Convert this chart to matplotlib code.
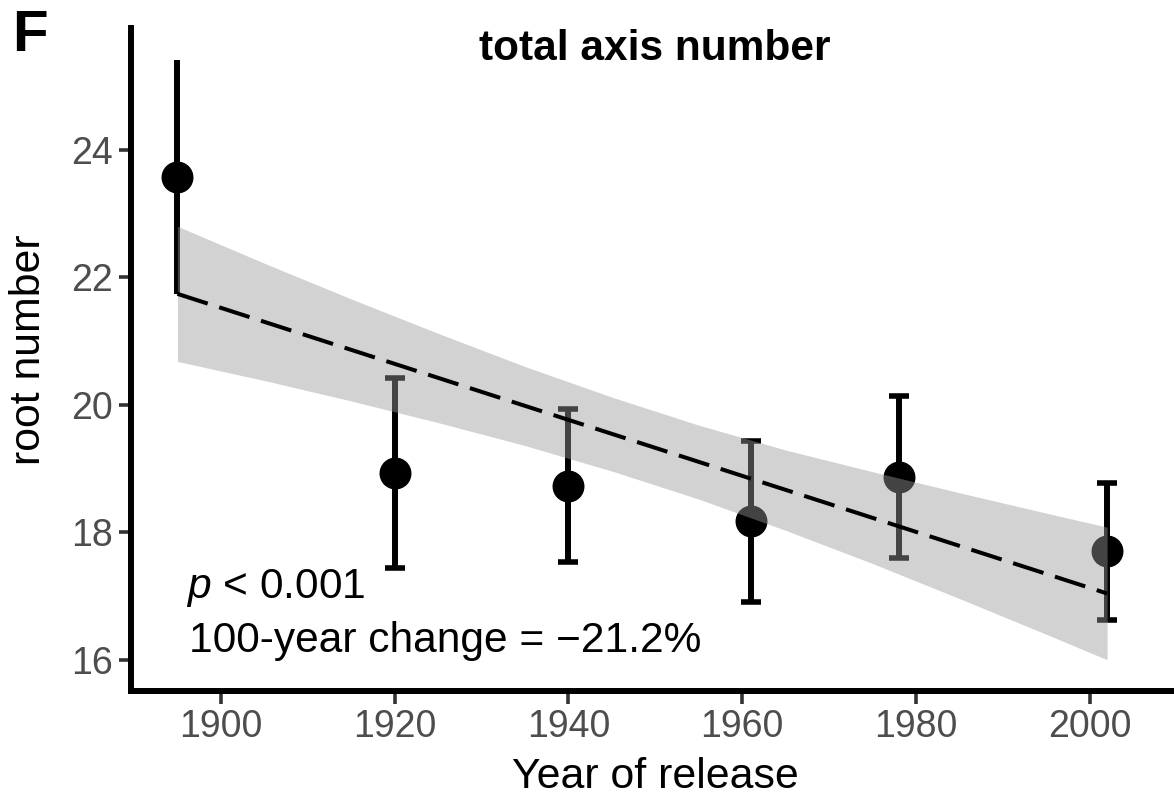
import matplotlib.pyplot as plt

plt.rcParams['font.family'] = ['Liberation Sans', 'DejaVu Sans']
plt.rcParams['mathtext.fontset'] = 'custom'
plt.rcParams['mathtext.it'] = 'Liberation Sans:italic'
plt.rcParams['mathtext.rm'] = 'Liberation Sans'

# group means and error bars
years = [1895, 1920, 1940, 1961, 1978, 2002]
means = [23.57, 18.93, 18.73, 18.17, 18.87, 17.70]
errs = [1.84, 1.49, 1.20, 1.26, 1.27, 1.08]

# regression line and its confidence band
fit_years = [1895, 1905, 1915, 1925, 1935, 1945, 1955, 1965, 1975, 1985, 1995, 2002]
fit_mid = [21.74, 21.30, 20.86, 20.42, 19.98, 19.54, 19.10, 18.66, 18.23, 17.79, 17.35, 17.04]
fit_hi = [22.80, 22.22, 21.66, 21.12, 20.60, 20.12, 19.68, 19.29, 18.95, 18.62, 18.30, 18.08]
fit_lo = [20.68, 20.38, 20.06, 19.72, 19.36, 18.96, 18.52, 18.03, 17.51, 16.96, 16.40, 16.00]

xticks = [1900, 1920, 1940, 1960, 1980, 2000]
yticks = [16, 18, 20, 22, 24]

W, H = 1174, 799
fig = plt.figure(figsize=(W / 100, H / 100), dpi=100)
ax = fig.add_axes([130.5 / W, 1 - 691 / H, (W - 130.5) / W, (691 - 28) / H])

# first point has no caps in the original
ax.errorbar(years[:1], means[:1], yerr=errs[:1], fmt='o', color='black',
            ms=22, elinewidth=4.3, capsize=0, zorder=2)
ax.errorbar(years[1:], means[1:], yerr=errs[1:], fmt='o', color='black',
            ms=22, elinewidth=4.3, capsize=7, capthick=4, zorder=2)

ax.fill_between(fit_years, fit_lo, fit_hi, color='0.6', alpha=0.44, lw=0, zorder=3)
ax.plot([fit_years[0], fit_years[-1]], [fit_mid[0], fit_mid[-1]], color='black',
        lw=2.9, ls=(0, (7.9, 3.0)), zorder=4)

ax.set_xlim(1889.6, 2009.7)
ax.set_ylim(15.51, 25.91)
ax.set_xticks(xticks)
ax.set_yticks(yticks)
ax.tick_params(length=9, width=2.6, color='#333333', labelcolor='#4d4d4d',
               labelsize=27, pad=4)
for s in ['top', 'right']:
    ax.spines[s].set_visible(False)
for s in ['left', 'bottom']:
    ax.spines[s].set_linewidth(4.3)

fig.text(655 / W, 1 - 788 / H, 'Year of release', fontsize=30.8, ha='center', va='baseline')
fig.text(28.5 / W, 1 - 350 / H, 'root number', fontsize=30.8, rotation=90,
         ha='center', va='center')
fig.text(655 / W, 1 - 60 / H, 'total axis number', fontsize=30.5, fontweight='bold',
         ha='center', va='baseline')
fig.text(12 / W, 1 - 51 / H, 'F', fontsize=42, fontweight='bold', va='baseline')

fig.text(186 / W, 1 - 598 / H, '$p$ < 0.001', fontsize=30.6, va='baseline')
fig.text(189 / W, 1 - 652 / H, '100-year change = \u221221.2%', fontsize=30.6, va='baseline')

fig.savefig('out.png', dpi=100)
